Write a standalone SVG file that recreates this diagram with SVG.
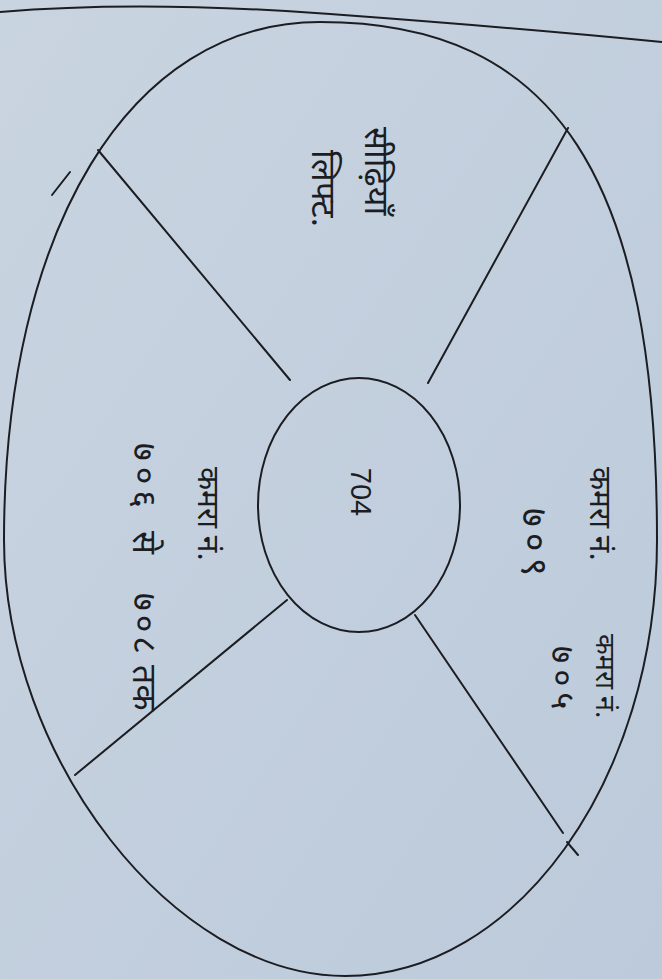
<svg xmlns="http://www.w3.org/2000/svg" width="662" height="979" viewBox="0 0 662 979">
<defs>
<linearGradient id="paper" x1="0" y1="0" x2="1" y2="1">
<stop offset="0" stop-color="#c9d4e0"/>
<stop offset="1" stop-color="#bccadb"/>
</linearGradient>
</defs>
<style>
.ln{fill:none;stroke:#1b1d22;stroke-width:2;stroke-linecap:round}
.hw{font-family:"Noto Sans","Noto Sans CJK SC",sans-serif;font-size:30px;fill:#1b1d22}
.dg{font-family:"Noto Sans","Noto Sans CJK SC",sans-serif;font-size:36px;fill:#1b1d22;letter-spacing:6px}
.num{font-family:"Liberation Sans",Arial,sans-serif;font-size:29px;fill:#1b1d22}
</style>
<rect width="662" height="979" fill="url(#paper)"/>
<path class="ln" d="M0,12 Q140,0 330,14 T662,42"/>
<g id="outer"><path class="ln" d="M320,22 C556,22 657,177 657,540 C657,780 516,976 345,976 C174,976 4,758 4,540 C4,229 130,22 320,22 Z"/></g>
<g id="center"><ellipse class="ln" cx="359" cy="505" rx="101" ry="127"/>
<text class="num" text-anchor="middle" dominant-baseline="central" transform="translate(361,492) rotate(90)">704</text></g>
<g id="connectors">
<line class="ln" x1="428" y1="383" x2="568" y2="128"/>
<line class="ln" x1="290" y1="380" x2="98" y2="150"/>
<line class="ln" x1="52" y1="195" x2="70" y2="172"/>
<line class="ln" x1="415" y1="615" x2="563" y2="833"/>
<line class="ln" x1="567" y1="842" x2="578" y2="855"/>
<line class="ln" x1="287" y1="600" x2="75" y2="775"/>
</g>
<g id="room-709">
<text class="hw" dominant-baseline="central" transform="translate(601,467) rotate(90)">कमरा नं.</text>
<text class="dg" dominant-baseline="central" transform="translate(535,508) rotate(90)">७०९</text>
</g>
<g id="room-705">
<text class="hw" dominant-baseline="central" transform="translate(606,634) rotate(90)" style="font-size:27px">कमरा नं.</text>
<text class="dg" dominant-baseline="central" transform="translate(563,646) rotate(90)" style="font-size:33px">७०५</text>
</g>
<g id="room-706">
<text class="hw" dominant-baseline="central" transform="translate(209,467) rotate(90)">कमरा नं.</text>
<text class="hw" dominant-baseline="central" transform="translate(146,443) rotate(90)" style="font-size:34px"><tspan class="dg" style="font-size:34px">७०६</tspan><tspan x="88">से</tspan><tspan x="150" style="letter-spacing:4px">७०८</tspan><tspan x="222">तक</tspan></text>
</g>
<g id="top-area">
<text class="hw" dominant-baseline="central" transform="translate(378,127) rotate(90)" style="font-size:34px">सीढ़ियाँ</text>
<text class="hw" dominant-baseline="central" transform="translate(325,150) rotate(90)" style="font-size:34px">लिफ्ट.</text>
</g>
</svg>
